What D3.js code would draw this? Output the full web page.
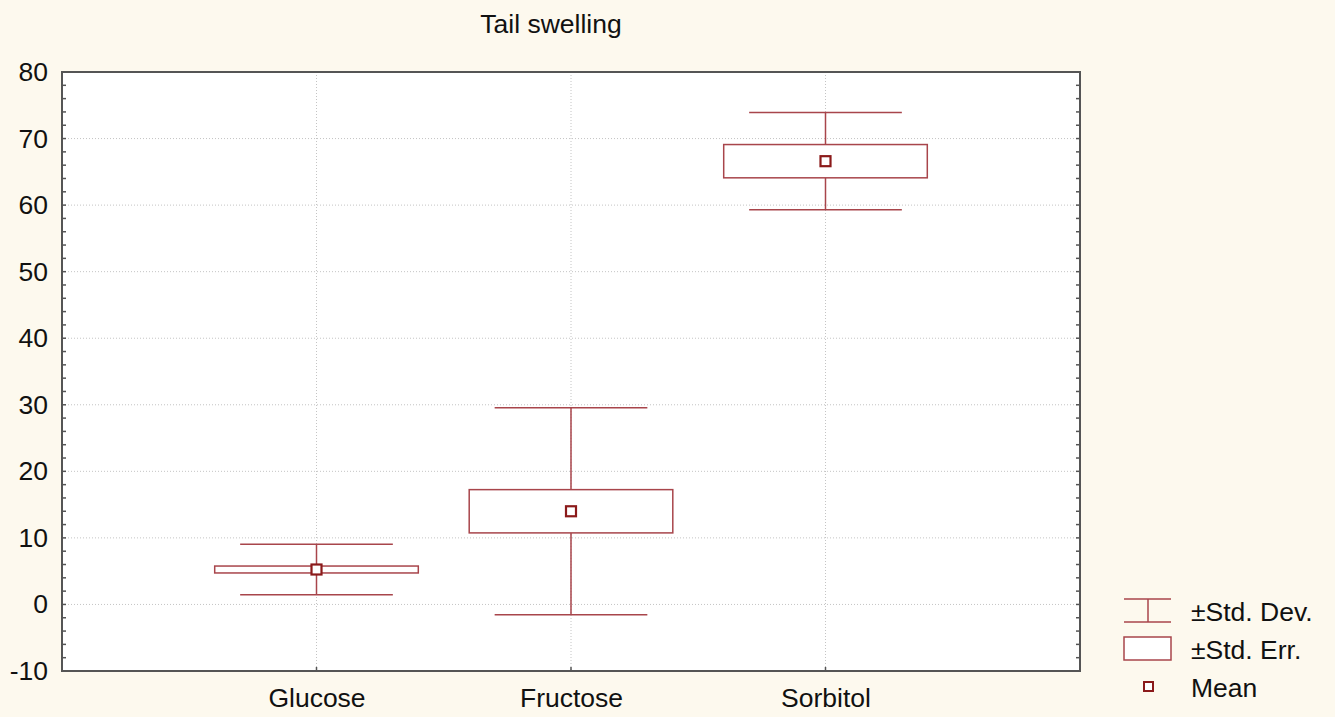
<!DOCTYPE html>
<html><head><meta charset="utf-8">
<script src="https://cdn.jsdelivr.net/npm/d3@7"></script>
<style>
html,body{margin:0;padding:0;background:#FDF9EE;}
svg{display:block;font-family:"Liberation Sans",Arial,sans-serif;}
</style></head>
<body>
<svg id="c" width="1335" height="717"></svg>
<script>
const categories = ["Glucose", "Fructose", "Sorbitol"];
const means = [5.25, 14.0, 66.6];
const stdErr = [0.52, 3.25, 2.5];
const stdDev = [3.8, 15.55, 7.3];
const yTicks = [-10, 0, 10, 20, 30, 40, 50, 60, 70, 80];
const legendLabels = ["±Std. Dev.", "±Std. Err.", "Mean"];
const title = "Tail swelling";

const FS = 26.5;
const svg = d3.select("#c");
const L = 62, R = 1080, T = 72, B = 671;
const x = d3.scaleLinear().domain([0, 4]).range([L, R]);
const y = d3.scaleLinear().domain([-10, 80]).range([B, T]);
const red = "#A8454B", dark = "#8B1A1A", frame = "#555";

svg.append("rect").attr("x", L).attr("y", T).attr("width", R - L).attr("height", B - T).attr("fill", "#fff");

// grid
svg.append("g").selectAll("line").data(yTicks.slice(1, -1)).join("line")
  .attr("x1", L).attr("x2", R).attr("y1", d => y(d)).attr("y2", d => y(d))
  .attr("stroke", "#c4c4c4").attr("stroke-dasharray", "1,2").attr("stroke-width", 1);
svg.append("g").selectAll("line").data(categories).join("line")
  .attr("x1", (d, i) => x(i + 1)).attr("x2", (d, i) => x(i + 1)).attr("y1", T).attr("y2", B)
  .attr("stroke", "#c4c4c4").attr("stroke-dasharray", "1,2").attr("stroke-width", 1);

// minor ticks (inward) every 2 units on left and right
const minor = d3.range(-10, 80.001, 2);
svg.append("g").selectAll("line").data(minor).join("line")
  .attr("x1", L).attr("x2", L + 4).attr("y1", d => y(d)).attr("y2", d => y(d))
  .attr("stroke", frame).attr("stroke-width", 1.5);
svg.append("g").selectAll("line").data(minor).join("line")
  .attr("x1", R).attr("x2", R - 4).attr("y1", d => y(d)).attr("y2", d => y(d))
  .attr("stroke", frame).attr("stroke-width", 1.5);
svg.append("g").selectAll("line").data(categories).join("line")
  .attr("x1", (d, i) => x(i + 1)).attr("x2", (d, i) => x(i + 1)).attr("y1", B).attr("y2", B - 4)
  .attr("stroke", frame).attr("stroke-width", 1.5);

// Y axis labels
const yAxis = d3.axisLeft(y).tickValues(yTicks).tickFormat(d => String(d)).tickSize(0).tickPadding(14);
const gy = svg.append("g").attr("transform", `translate(${L},0)`).call(yAxis);
gy.select(".domain").remove();
gy.selectAll("text").attr("font-size", FS).attr("fill", "#111").attr("font-family", "Liberation Sans, Arial, sans-serif");

// X axis labels
const xAxis = d3.axisBottom(x).tickValues([1, 2, 3]).tickFormat(d => categories[d - 1]).tickSize(0).tickPadding(17);
const gx = svg.append("g").attr("transform", `translate(0,${B})`).call(xAxis);
gx.select(".domain").remove();
gx.selectAll("text").attr("font-size", FS).attr("fill", "#111").attr("font-family", "Liberation Sans, Arial, sans-serif");

// frame
svg.append("rect").attr("x", L).attr("y", T).attr("width", R - L).attr("height", B - T)
  .attr("fill", "none").attr("stroke", frame).attr("stroke-width", 2);

// marks
const g = svg.append("g");
categories.forEach((c, i) => {
  const cx = x(i + 1);
  const bw = x(0.4) - x(0), ww = x(0.3) - x(0);
  const hi = means[i] + stdDev[i], lo = means[i] - stdDev[i];
  const eh = means[i] + stdErr[i], el = means[i] - stdErr[i];
  g.append("line").attr("x1", cx).attr("x2", cx).attr("y1", y(hi)).attr("y2", y(eh)).attr("stroke", red).attr("stroke-width", 1.5);
  g.append("line").attr("x1", cx).attr("x2", cx).attr("y1", y(el)).attr("y2", y(lo)).attr("stroke", red).attr("stroke-width", 1.5);
  g.append("line").attr("x1", cx - ww).attr("x2", cx + ww).attr("y1", y(hi)).attr("y2", y(hi)).attr("stroke", red).attr("stroke-width", 1.5);
  g.append("line").attr("x1", cx - ww).attr("x2", cx + ww).attr("y1", y(lo)).attr("y2", y(lo)).attr("stroke", red).attr("stroke-width", 1.5);
  g.append("rect").attr("x", cx - bw).attr("width", 2 * bw).attr("y", y(eh)).attr("height", y(el) - y(eh))
    .attr("fill", "#fff").attr("stroke", red).attr("stroke-width", 1.5);
  if (i === 0) {
    g.append("line").attr("x1", cx).attr("x2", cx).attr("y1", y(eh)).attr("y2", y(el)).attr("stroke", red).attr("stroke-width", 1.5);
  }
  g.append("rect").attr("x", cx - 5).attr("y", y(means[i]) - 5).attr("width", 10).attr("height", 10)
    .attr("fill", "#fff").attr("stroke", dark).attr("stroke-width", 2.2);
});

// title
svg.append("text").attr("x", 551).attr("y", 33).attr("text-anchor", "middle").attr("font-size", FS).attr("fill", "#111").text(title);

// legend
const lg = svg.append("g");
lg.append("line").attr("x1", 1124).attr("x2", 1171).attr("y1", 599).attr("y2", 599).attr("stroke", red).attr("stroke-width", 1.5);
lg.append("line").attr("x1", 1124).attr("x2", 1171).attr("y1", 622).attr("y2", 622).attr("stroke", red).attr("stroke-width", 1.5);
lg.append("line").attr("x1", 1148).attr("x2", 1148).attr("y1", 599).attr("y2", 622).attr("stroke", red).attr("stroke-width", 1.5);
lg.append("rect").attr("x", 1124).attr("y", 637).attr("width", 47).attr("height", 23).attr("fill", "#fff").attr("stroke", red).attr("stroke-width", 1.5);
lg.append("rect").attr("x", 1144).attr("y", 682).attr("width", 9).attr("height", 9).attr("fill", "#fff").attr("stroke", dark).attr("stroke-width", 2);
lg.selectAll("text.l").data(legendLabels).join("text").attr("class", "l")
  .attr("x", 1191).attr("y", (d, i) => [621, 659, 697][i]).attr("font-size", FS).attr("fill", "#111").text(d => d);
</script>
</body></html>
